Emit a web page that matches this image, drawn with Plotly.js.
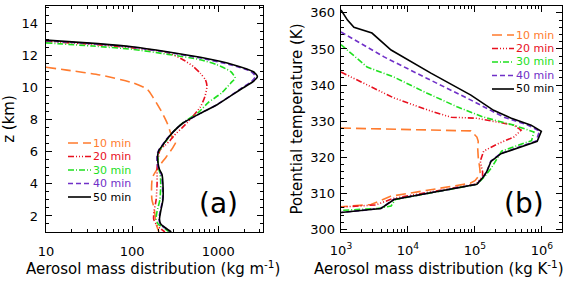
<!DOCTYPE html>
<html>
<head>
<meta charset="utf-8">
<script src="https://cdn.plot.ly/plotly-3.0.1.min.js"></script>
<style>
  html, body { margin: 0; padding: 0; background: #fff; }
  #chart { width: 568px; height: 282px; }
</style>
</head>
<body>
<div id="chart"></div>
<script>
// Series labels and styles (times after release)
const seriesNames = ['10 min', '20 min', '30 min', '40 min', '50 min'];
const seriesColors = ['#ff7b2e', '#e8101e', '#1ee01e', '#7030c8', '#000000'];
const seriesDashes = ['10px,5px', '6px,2px,1px,2px,1px,2px,1px,2px', '6px,2px,1px,2px', '5px,3px', 'solid'];

// Axis tick labels
const tickValsA = [10, 100, 1000];
const tickTextA = ['10', '100', '1000'];
const tickValsB = [1e3, 1e4, 1e5, 1e6];
const tickTextB = ['10<sup>3</sup>', '10<sup>4</sup>', '10<sup>5</sup>', '10<sup>6</sup>'];

// Panel (a): aerosol mass per unit height (kg m^-1) against altitude z (km)
const zA10 = [11.28, 11.1, 10.8, 10.3, 9.9, 9.4, 8.6, 7.8, 6.95, 6.6, 6.3, 5.7, 5.0, 4.4, 3.6, 3.0, 2.5, 2.0, 1.5, 1.0];
const mA10 = [10, 17.5, 42, 103, 150, 175, 215, 255, 290, 320, 300, 250, 200, 172, 168, 170, 180, 185, 190, 205];

const zA20 = [12.9, 12.7, 12.5, 12.2, 11.75, 11.3, 10.9, 10.5, 10.1, 9.44, 8.8, 8.0, 7.5, 7.0, 6.7, 6.4, 6.1, 5.5, 5.0, 4.0, 3.0, 2.3, 1.8, 1.4, 1.0];
const mA20 = [10, 35, 95, 255, 390, 520, 620, 710, 740, 700, 620, 470, 380, 305, 275, 240, 210, 200, 195, 195, 190, 180, 178, 195, 240];

const zA30 = [12.8, 12.6, 12.4, 12.1, 11.75, 11.44, 11.0, 10.6, 10.3, 9.7, 9.06, 8.5, 7.8, 7.25, 6.8, 6.4, 6.1, 5.8, 5.3, 4.9, 4.6, 4.0, 3.0, 2.3, 1.8, 1.5, 1.25, 1.0];
const mA30 = [10, 35, 100, 250, 620, 960, 1400, 1570, 1400, 1110, 760, 600, 385, 300, 258, 228, 208, 200, 200, 205, 212, 215, 210, 195, 190, 200, 235, 270];

const zA40 = [12.93, 12.72, 12.53, 12.22, 11.87, 11.42, 11.0, 10.7, 10.4, 10.0, 9.6, 8.94, 8.4, 7.8, 7.25, 6.8, 6.4, 6.1, 5.8, 5.3, 4.9, 4.6, 4.0, 3.0, 2.3, 1.8, 1.5, 1.25, 1.0];
const mA40 = [10, 40, 100, 250, 600, 1420, 2420, 2700, 2450, 1900, 1480, 960, 620, 390, 300, 252, 222, 203, 195, 195, 205, 218, 225, 226, 212, 205, 212, 240, 280];

const zA50 = [12.97, 12.75, 12.56, 12.25, 11.9, 11.44, 11.0, 10.7, 10.4, 10.0, 9.6, 8.94, 8.4, 7.8, 7.25, 6.8, 6.4, 6.1, 5.8, 5.3, 4.9, 4.6, 4.0, 3.0, 2.3, 1.8, 1.5, 1.25, 1.0];
const mA50 = [10, 40, 100, 255, 620, 1490, 2560, 2850, 2560, 1950, 1500, 970, 620, 390, 300, 255, 225, 205, 198, 200, 208, 222, 228, 228, 215, 208, 215, 245, 285];

// Panel (b): aerosol mass per unit potential temperature (kg K^-1) against theta (K)
const tB10 = [328.1, 327.7, 327.3, 325.6, 324.4, 322.5, 320, 317, 315.3, 313.5, 312.8, 309.2, 306.9, 306.3];
const mB10 = [1000, 20000, 87000, 107000, 112000, 110000, 112000, 118000, 120000, 100000, 85000, 5500, 2800, 1000];

const tB20 = [343.6, 338.6, 336.4, 332.5, 331.1, 330.8, 328.9, 327.5, 325.6, 323.6, 321.7, 318.9, 316, 314.7, 312.6, 308.6, 306.8, 306.2];
const mB20 = [1000, 3450, 6200, 24500, 44000, 107000, 380000, 490000, 380000, 212000, 135000, 120000, 130000, 130000, 105000, 6000, 3300, 1000];

const tB30 = [351.2, 345, 342.2, 337.8, 334, 331.1, 328.9, 327, 324.6, 321.7, 316.9, 314.7, 312.5, 308.3, 306.5, 305.8, 305.3];
const mB30 = [1000, 2450, 6200, 19000, 54000, 135000, 380000, 760000, 700000, 250000, 174000, 140000, 107000, 6500, 5600, 3500, 1000];

const tB40 = [354.7, 347.8, 341.9, 336.4, 331.1, 329, 327.3, 324.5, 321, 318.9, 316, 314.7, 312.5, 308.3, 305.8, 304.7];
const mB40 = [1000, 4400, 19000, 76000, 270000, 600000, 920000, 820000, 240000, 172000, 150000, 134000, 106000, 6100, 3900, 1000];

const tB50 = [360.8, 358, 356, 354.4, 349.7, 343.3, 337.2, 333, 330.8, 328.9, 327.2, 324.4, 321, 318.9, 316, 314.7, 312.5, 308.3, 305.8, 304.7];
const mB50 = [1000, 1250, 1560, 2900, 5600, 22000, 87000, 190000, 350000, 690000, 980000, 850000, 245000, 174000, 150000, 135000, 107000, 6200, 3950, 1000];

const panelA = [[mA10, zA10], [mA20, zA20], [mA30, zA30], [mA40, zA40], [mA50, zA50]];
const panelB = [[mB10, tB10], [mB20, tB20], [mB30, tB30], [mB40, tB40], [mB50, tB50]];

const FONT = 'DejaVu Sans, sans-serif';
const W = 568, H = 282;

const traces = [];
panelA.forEach(function (s, i) {
  traces.push({
    x: s[0], y: s[1], xaxis: 'x', yaxis: 'y', mode: 'lines', name: seriesNames[i],
    line: { color: seriesColors[i], dash: seriesDashes[i], width: 1.6, shape: 'spline', smoothing: 0.6 },
    showlegend: false, hoverinfo: 'skip'
  });
});
panelB.forEach(function (s, i) {
  traces.push({
    x: s[0], y: s[1], xaxis: 'x2', yaxis: 'y2', mode: 'lines', name: seriesNames[i],
    line: { color: seriesColors[i], dash: seriesDashes[i], width: 1.6 },
    showlegend: false, hoverinfo: 'skip'
  });
});

// 2..9 minor ticks in every decade between two powers of ten
function logMinor(p0, p1) {
  const v = [];
  for (let p = p0; p < p1; p++) {
    for (let k = 2; k <= 9; k++) v.push(k * Math.pow(10, p));
  }
  return v;
}

const minorStyle = { ticks: 'inside', ticklen: 3, tickwidth: 1, tickcolor: '#000', showgrid: false };
const titleFont = { family: FONT, size: 15, color: '#000' };

function frameAxis(extra) {
  return Object.assign({
    showline: true, linecolor: '#000', linewidth: 1.3, mirror: 'allticks',
    ticks: 'inside', ticklen: 6, tickwidth: 1, tickcolor: '#000',
    showgrid: false, zeroline: false, tickangle: 0,
    tickfont: { family: FONT, size: 13, color: '#000' }
  }, extra);
}

// Legend keys built from the series style arrays
function legendBlock(x0, x1, xText, yTop, step) {
  const shapes = [], notes = [];
  seriesNames.forEach(function (name, i) {
    const yp = 1 - (yTop + i * step) / H;
    shapes.push({
      type: 'line', xref: 'paper', yref: 'paper',
      x0: x0 / W, x1: x1 / W, y0: yp, y1: yp,
      line: { color: seriesColors[i], width: 1.6, dash: seriesDashes[i] }
    });
    notes.push({
      xref: 'paper', yref: 'paper', x: xText / W, y: yp, xanchor: 'left', yanchor: 'middle',
      text: name, showarrow: false,
      font: { family: FONT, size: 11, color: seriesColors[i] }
    });
  });
  return { shapes: shapes, notes: notes };
}

const legA = legendBlock(68, 91, 91, 143, 13.5);
const legB = legendBlock(492, 514, 514, 35, 13.5);

// x-axis titles placed as paper annotations so the wide right-hand one stays inside the page
function xTitle(text, xc) {
  return {
    xref: 'paper', yref: 'paper', x: xc / W, y: 1 - 268 / H, xanchor: 'center', yanchor: 'middle',
    text: text, showarrow: false, font: titleFont
  };
}

const layout = {
  width: W, height: H,
  margin: { l: 0, r: 0, t: 0, b: 0 },
  paper_bgcolor: '#fff', plot_bgcolor: '#fff',
  showlegend: false,
  xaxis: frameAxis({
    type: 'log', range: [1, 3.52], domain: [46 / W, 263 / W], anchor: 'y',
    tickmode: 'array', tickvals: tickValsA, ticktext: tickTextA, ticklabelstandoff: 7,
    minor: Object.assign({ tickmode: 'array', tickvals: logMinor(1, 4) }, minorStyle)
  }),
  yaxis: frameAxis({
    range: [1, 15.1], domain: [1 - 232 / H, 1 - 6 / H], anchor: 'x',
    dtick: 2, tick0: 0, ticklabelstandoff: 4,
    minor: Object.assign({ dtick: 0.5 }, minorStyle),
    title: { text: 'z (km)', font: titleFont, standoff: 7 }
  }),
  xaxis2: frameAxis({
    type: 'log', range: [3, 6.3], domain: [341 / W, 562 / W], anchor: 'y2',
    tickmode: 'array', tickvals: tickValsB, ticktext: tickTextB, ticklabelstandoff: 6,
    minor: Object.assign({ tickmode: 'array', tickvals: logMinor(3, 7) }, minorStyle)
  }),
  yaxis2: frameAxis({
    range: [299.3, 361.9], domain: [1 - 232 / H, 1 - 6 / H], anchor: 'x2',
    dtick: 10, tick0: 300, ticklabelstandoff: 2,
    minor: Object.assign({ dtick: 2 }, minorStyle),
    title: { text: 'Potential temperature (K)', font: titleFont, standoff: 4 }
  }),
  shapes: legA.shapes.concat(legB.shapes),
  annotations: legA.notes.concat(legB.notes).concat([
    xTitle('Aerosol mass distribution (kg m<sup>-1</sup>)', 153),
    xTitle('Aerosol mass distribution (kg K<sup>-1</sup>)', 439),
    { xref: 'paper', yref: 'paper', x: 218 / W, y: 1 - 203 / H, xanchor: 'center', yanchor: 'middle',
      text: '(a)', showarrow: false, font: { family: FONT, size: 28, color: '#000' } },
    { xref: 'paper', yref: 'paper', x: 524 / W, y: 1 - 203 / H, xanchor: 'center', yanchor: 'middle',
      text: '(b)', showarrow: false, font: { family: FONT, size: 28, color: '#000' } }
  ])
};

Plotly.newPlot('chart', traces, layout, { staticPlot: true, displayModeBar: false });
</script>
</body>
</html>
